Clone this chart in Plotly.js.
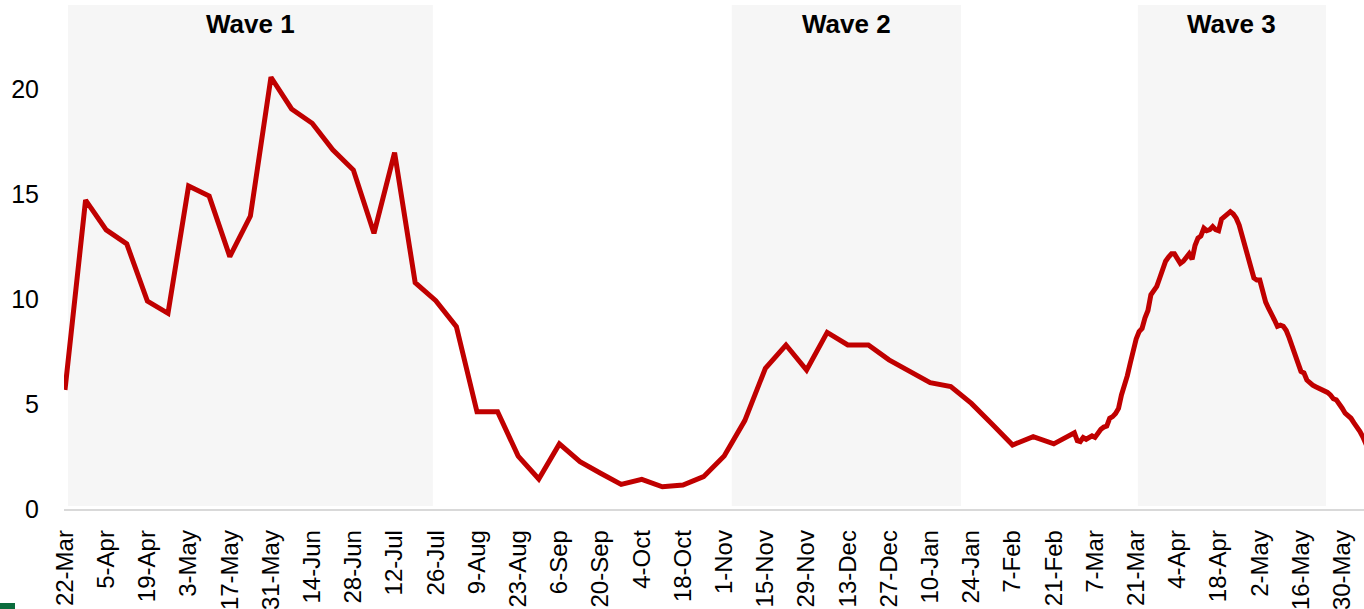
<!DOCTYPE html>
<html>
<head>
<meta charset="utf-8">
<script src="https://cdn.plot.ly/plotly-3.0.1.min.js"></script>
<style>
  html, body { margin: 0; padding: 0; background: #ffffff; }
  #chart { width: 1364px; height: 609px; }
</style>
</head>
<body>
<div id="chart"></div>
<script>
// Weekly values (Sundays), 22-Mar-2020 to 28-Feb-2021
const weeklyStart = '2020-03-22';
const weeklyValues = [
  5.67, 14.71, 13.29, 12.62, 9.90, 9.32, 15.38, 14.90, 12.02, 13.95,
  20.56, 19.05, 18.37, 17.10, 16.14, 13.13, 16.97, 10.78, 9.92, 8.68,
  4.63, 4.63, 2.52, 1.43, 3.10, 2.25, 1.70, 1.17, 1.41, 1.06,
  1.14, 1.54, 2.52, 4.21, 6.70, 7.81, 6.62, 8.41, 7.81, 7.81,
  7.10, 6.54, 6.02, 5.83, 5.03, 4.05, 3.05, 3.44, 3.10, 3.63
];
// Daily values from 1-Mar-2021
const dailyStart = '2021-03-01';
const dailyValues = [
  3.25, 3.21, 3.40, 3.32, 3.40, 3.48, 3.41, 3.62, 3.80, 3.90,
  3.95, 4.32, 4.40, 4.55, 4.79, 5.43, 5.85, 6.35, 6.95, 7.55,
  8.10, 8.45, 8.60, 9.10, 9.45, 10.20, 10.45, 10.60, 11.00, 11.45,
  11.80, 12.00, 12.15, 12.15, 11.95, 11.70, 11.80, 11.95, 12.15, 11.89,
  12.55, 12.90, 13.00, 13.37, 13.25, 13.30, 13.45, 13.30, 13.25, 13.80,
  13.90, 14.00, 14.16, 14.05, 13.85, 13.52, 12.97, 12.40, 12.00, 11.50,
  11.00, 10.90, 10.90, 10.30, 9.85, 9.55, 9.20, 9.00, 8.70, 8.75,
  8.70, 8.50, 8.15, 7.80, 7.35, 6.95, 6.55, 6.48, 6.14, 6.00,
  5.90, 5.82, 5.75, 5.72, 5.67, 5.55, 5.43, 5.25, 5.20, 5.03,
  4.80, 4.56, 4.45, 4.32, 4.10, 3.92, 3.70, 3.44, 3.10, 2.80
];
// Wave shading periods
const waveNames = ['Wave 1', 'Wave 2', 'Wave 3'];
const waveStart = ['2020-03-23', '2020-11-03 14:00', '2021-03-21 14:00'];
const waveEnd   = ['2020-07-25', '2021-01-20 12:00', '2021-05-24 12:00'];

const DAY = 86400000;
function addDays(iso, n) {
  const d = new Date(iso + 'T00:00:00Z');
  d.setUTCDate(d.getUTCDate() + n);
  return d.toISOString().slice(0, 10);
}
const xs = [], ys = [];
weeklyValues.forEach((v, i) => { xs.push(addDays(weeklyStart, 7 * i)); ys.push(v); });
dailyValues.forEach((v, i) => { xs.push(addDays(dailyStart, i)); ys.push(v); });

const font = 'Liberation Sans, Arial, sans-serif';

const shapes = waveNames.map((n, i) => ({
  type: 'rect', layer: 'below', xref: 'x', yref: 'y',
  x0: waveStart[i], x1: waveEnd[i], y0: 0.14, y1: 24,
  fillcolor: '#f6f6f6', line: { width: 0 }
}));
shapes.push({
  type: 'rect', xref: 'paper', yref: 'paper',
  x0: -64 / 1300, x1: -49 / 1300, y0: -100 / 504, y1: -94 / 504,
  fillcolor: '#0b6b3c', line: { width: 0 }
});

function midDate(a, b) {
  const ta = new Date(a.replace(' ', 'T') + (a.length > 10 ? ':00Z' : 'T00:00:00Z')).getTime();
  const tb = new Date(b.replace(' ', 'T') + (b.length > 10 ? ':00Z' : 'T00:00:00Z')).getTime();
  return new Date((ta + tb) / 2).toISOString().replace('T', ' ').slice(0, 19);
}
const annotations = waveNames.map((n, i) => ({
  text: '<b>' + n + '</b>', x: midDate(waveStart[i], waveEnd[i]), y: 23.1,
  xref: 'x', yref: 'y', showarrow: false, xanchor: 'center', yanchor: 'middle',
  font: { family: font, size: 26, color: '#000000' }
}));

const data = [{
  x: xs, y: ys, type: 'scatter', mode: 'lines',
  line: { color: '#c00000', width: 5 },
  hoverinfo: 'skip'
}];

const layout = {
  width: 1364, height: 609,
  margin: { l: 64, r: 0, t: 5, b: 100, pad: 0 },
  paper_bgcolor: '#ffffff', plot_bgcolor: '#ffffff',
  showlegend: false,
  font: { family: font, size: 24, color: '#000000' },
  xaxis: {
    type: 'date',
    range: ['2020-03-21 16:00', '2021-06-06 10:00'],
    tick0: '2020-03-22', dtick: 14 * DAY,
    tickformat: '%-d-%b', tickangle: -90,
    ticks: '', showgrid: false, zeroline: false,
    showline: true, linecolor: '#d9d9d9', linewidth: 1.5,
    ticklabelstandoff: 10,
    tickfont: { family: font, size: 24, color: '#000000' }
  },
  yaxis: {
    range: [0, 24], tickvals: [0, 5, 10, 15, 20],
    showgrid: false, zeroline: false, showline: false, ticks: '',
    ticklabelstandoff: 24,
    tickfont: { family: font, size: 25, color: '#000000' }
  },
  shapes: shapes,
  annotations: annotations
};

Plotly.newPlot('chart', data, layout, { staticPlot: true, displayModeBar: false });
</script>
</body>
</html>
